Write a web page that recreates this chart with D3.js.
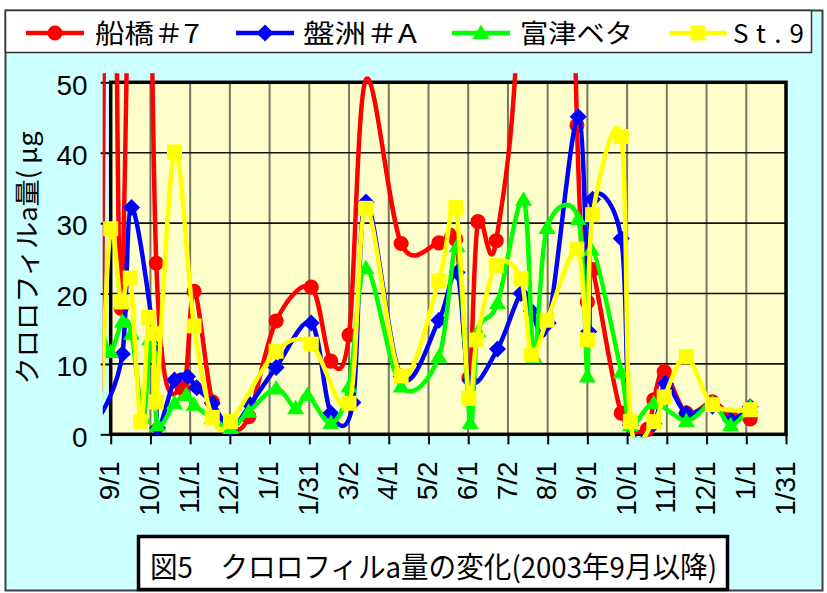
<!DOCTYPE html>
<html>
<head>
<meta charset="utf-8">
<script src="https://cdn.jsdelivr.net/npm/d3@7"></script>
<style>
body { margin: 0; background: #fff; }
</style>
</head>
<body>
<div id="chart"></div>
<script>
"use strict";

// series names (legend order)
var seriesNames = ["船橋＃7", "盤洲＃A", "富津ベタ", "St.9"];
var seriesColors = ["#FF0000", "#0000FF", "#00FF00", "#FFFF00"];
var yTicks = [0, 10, 20, 30, 40, 50];

// 船橋#7
var redDates = ["2003-08-25","2003-09-01","2003-09-09","2003-09-24","2003-10-06","2003-10-26","2003-11-04","2003-11-18","2003-12-02","2003-12-16",
	"2004-01-06","2004-02-02","2004-02-17","2004-03-02","2004-03-15","2004-04-11","2004-05-10","2004-05-23","2004-06-02","2004-06-09",
	"2004-06-23","2004-07-12","2004-07-20","2004-08-02","2004-08-24","2004-09-01","2004-09-05","2004-09-27","2004-10-17","2004-10-22",
	"2004-10-30","2004-11-16","2004-12-06","2004-12-20","2005-01-04"];
var redValues = [6, 150, 17.9, 160, 24.3, 6.5, 20.3, 4.6, 1.0, 2.5,
	16.1, 20.9, 10.4, 14.1, 50.4, 27.1, 27.2, 27.7, 8.0, 30.2,
	27.5, 70, 200, 200, 43.9, 18.8, 23.4, 3.0, 0.7, 4.9,
	8.9, 3.0, 4.6, 2.7, 2.2];

// 盤洲#A
var blueDates = ["2003-08-25","2003-09-10","2003-09-17","2003-10-05","2003-10-07","2003-10-20","2003-10-30","2003-11-06","2003-11-18","2003-12-02",
	"2003-12-17","2004-01-06","2004-02-02","2004-02-17","2004-03-05","2004-03-15","2004-04-11","2004-05-10","2004-05-24","2004-06-03",
	"2004-06-24","2004-07-12","2004-07-20","2004-08-02","2004-08-25","2004-09-02","2004-09-05","2004-09-27","2004-10-04","2004-10-22",
	"2004-10-31","2004-11-16","2004-12-06","2004-12-20","2005-01-04"];
var blueValues = [3, 11.4, 32.2, 12.3, 0.9, 7.7, 8.2, 6.6, 4.4, 0.9,
	4.2, 9.5, 15.8, 3.0, 4.5, 33.0, 8.2, 16.2, 23.0, 7.7,
	12.1, 20.0, 17.5, 15.8, 45.1, 14.6, 33.4, 27.8, 1.3, 1.5,
	7.2, 3.0, 4.0, 2.0, 3.9];

// 富津ベタ
var greenDates = ["2003-08-25","2003-09-01","2003-09-10","2003-09-17","2003-09-26","2003-10-01","2003-10-04","2003-10-07","2003-10-20","2003-10-29",
	"2003-11-04","2003-11-18","2003-12-02","2003-12-16","2004-01-06","2004-01-21","2004-01-30","2004-02-17","2004-03-02","2004-03-15",
	"2004-04-11","2004-05-10","2004-05-24","2004-06-03","2004-06-09","2004-06-24","2004-07-14","2004-07-22","2004-08-01","2004-08-25",
	"2004-09-01","2004-09-04","2004-09-27","2004-10-04","2004-10-22","2004-11-16","2004-12-06","2004-12-20","2005-01-04"];
var greenValues = [15, 11.7, 16.0, 14.3, 2.3, 13.5, 11.3, 1.3, 4.4, 5.6,
	4.2, 2.3, 0.9, 3.2, 6.5, 3.7, 5.6, 1.6, 6.8, 23.6,
	6.8, 11.0, 26.7, 1.6, 14.6, 18.6, 33.3, 11.0, 29.3, 30.6,
	8.2, 26.2, 8.8, 1.3, 4.4, 1.9, 4.4, 1.3, 3.9];

// St.9
var yellowDates = ["2003-08-25","2003-09-01","2003-09-09","2003-09-16","2003-09-24","2003-09-30","2003-10-04","2003-10-06","2003-10-20","2003-11-04",
	"2003-11-18","2003-12-02","2004-01-06","2004-02-02","2004-03-02","2004-03-15","2004-04-11","2004-05-10","2004-05-23","2004-06-02",
	"2004-06-08","2004-06-23","2004-07-12","2004-07-20","2004-08-01","2004-08-24","2004-09-01","2004-09-05","2004-09-27","2004-10-04",
	"2004-10-22","2004-10-30","2004-11-16","2004-12-06","2005-01-04"];
var yellowValues = [5, 29.2, 18.8, 22.2, 1.8, 16.6, 14.3, 4.6, 40.1, 15.4,
	2.4, 1.8, 11.8, 12.8, 4.4, 32.1, 8.3, 21.8, 32.2, 5.1,
	13.4, 24.0, 22.1, 11.3, 16.2, 26.3, 13.4, 31.2, 42.3, 1.8,
	1.8, 5.3, 11.0, 4.2, 3.5];

var width = 827;
var height = 593;
var plot = {left: 110.7, right: 786, top: 82.3, bottom: 434.3};

var parseDate = d3.utcParse("%Y-%m-%d");
var dayMs = 864e5;
var start = parseDate("2003-09-01");
var majorUnit = 30.5; // days between x ticks

var xTicks = d3.range(18).map(function(i) { return new Date(+start + i * majorUnit * dayMs); });
var tickFormat = function(d) { return d3.utcFormat("%-m/%-d")(d3.utcDay.floor(d)); };

var x = d3.scaleUtc()
	.domain([start, xTicks[xTicks.length - 1]])
	.range([plot.left, plot.right]);

var y = d3.scaleLinear()
	.domain([0, 50])
	.range([plot.bottom, plot.top]);

var series = [
	{dates: redDates, values: redValues, shape: "circle"},
	{dates: blueDates, values: blueValues, shape: "diamond"},
	{dates: greenDates, values: greenValues, shape: "triangle"},
	{dates: yellowDates, values: yellowValues, shape: "square"}
].map(function(s, i) {
	s.name = seriesNames[i];
	s.color = seriesColors[i];
	s.points = s.dates.map(function(d, j) { return {date: parseDate(d), value: s.values[j]}; });
	return s;
});

var svg = d3.select("#chart").append("svg")
	.attr("width", width)
	.attr("height", height);

// chart area
svg.append("rect")
	.attr("x", 5.5).attr("y", 10.5)
	.attr("width", 817).attr("height", 580)
	.attr("fill", "#CCFFFF")
	.attr("stroke", "#404040")
	.attr("stroke-width", 2);

// plot area
svg.append("rect")
	.attr("x", plot.left).attr("y", plot.top)
	.attr("width", plot.right - plot.left).attr("height", plot.bottom - plot.top)
	.attr("fill", "#FFFFCC");

// vertical grid
svg.append("g")
	.selectAll("line")
	.data(xTicks.slice(1, -1))
	.enter().append("line")
	.attr("x1", function(d) { return x(d); })
	.attr("x2", function(d) { return x(d); })
	.attr("y1", plot.top).attr("y2", plot.bottom)
	.attr("stroke", "#77775f")
	.attr("stroke-width", 2);

// horizontal grid
svg.append("g")
	.selectAll("line")
	.data(yTicks.slice(1, -1))
	.enter().append("line")
	.attr("x1", plot.left).attr("x2", plot.right)
	.attr("y1", function(d) { return y(d); })
	.attr("y2", function(d) { return y(d); })
	.attr("stroke", "#111")
	.attr("stroke-width", 1.6);

// axes
var yAxis = svg.append("g")
	.attr("transform", "translate(" + plot.left + ",0)")
	.call(d3.axisLeft(y).tickValues(yTicks).tickSize(10).tickPadding(13));

yAxis.selectAll("text")
	.attr("font-family", "Liberation Sans, Arial, sans-serif")
	.attr("font-size", 28)
	.attr("dy", "0.42em")
	.attr("fill", "#000");

var xAxis = svg.append("g")
	.attr("transform", "translate(0," + plot.bottom + ")")
	.call(d3.axisBottom(x).tickValues(xTicks).tickFormat(tickFormat).tickSize(10));

xAxis.selectAll("text")
	.attr("font-family", "Liberation Sans, Arial, sans-serif")
	.attr("font-size", 28)
	.attr("fill", "#000")
	.attr("text-anchor", "end")
	.attr("transform", "rotate(-90)")
	.attr("x", -27)
	.attr("y", -2)
	.attr("dy", "0.36em");

svg.selectAll(".domain").remove();
svg.selectAll(".tick line").attr("stroke", "#000").attr("stroke-width", 2);

// plot border
svg.append("rect")
	.attr("x", plot.left).attr("y", plot.top)
	.attr("width", plot.right - plot.left).attr("height", plot.bottom - plot.top)
	.attr("fill", "none")
	.attr("stroke", "#000")
	.attr("stroke-width", 3.5);

// lines may run a little past the plot edge, as in the original
svg.append("clipPath")
	.attr("id", "clip")
	.append("rect")
	.attr("x", plot.left - 8).attr("y", plot.top - 9)
	.attr("width", plot.right - plot.left + 16).attr("height", plot.bottom - plot.top + 12);

var line = d3.line()
	.x(function(d) { return x(d.date); })
	.y(function(d) { return y(d.value); })
	.curve(d3.curveCatmullRom.alpha(0));

function markerPath(shape) {
	if (shape === "circle") return d3.symbol(d3.symbolCircle, 180)();
	if (shape === "square") return d3.symbol(d3.symbolSquare, 225)();
	if (shape === "triangle") return "M0,-8.5L8.5,6L-8.5,6Z";
	return "M0,-8.5L8.5,0L0,8.5L-8.5,0Z";
}

var inDomain = function(d) {
	return d.value >= 0 && d.value <= 50 && d.date >= x.domain()[0] && d.date <= x.domain()[1];
};

series.forEach(function(s) {
	var g = svg.append("g");
	g.append("path")
		.datum(s.points)
		.attr("clip-path", "url(#clip)")
		.attr("fill", "none")
		.attr("stroke", s.color)
		.attr("stroke-width", 4.5)
		.attr("stroke-linejoin", "round")
		.attr("d", line);
	g.selectAll("path.marker")
		.data(s.points.filter(inDomain))
		.enter().append("path")
		.attr("class", "marker")
		.attr("transform", function(d) { return "translate(" + x(d.date) + "," + y(d.value) + ")"; })
		.attr("d", markerPath(s.shape))
		.attr("fill", s.color);
});

// axis title
svg.append("text")
	.attr("transform", "translate(37,258) rotate(-90)")
	.attr("text-anchor", "middle")
	.attr("font-family", "Noto Sans CJK JP, sans-serif")
	.attr("font-size", 26)
	.attr("textLength", 253)
	.attr("lengthAdjust", "spacingAndGlyphs")
	.text("クロロフィルa量( μg");

// legend
var legend = svg.append("g");
legend.append("rect")
	.attr("x", 5.5).attr("y", 10.5)
	.attr("width", 806).attr("height", 42)
	.attr("fill", "#fff")
	.attr("stroke", "#333")
	.attr("stroke-width", 1.5);

var legendX = [26, 236, 452, 669];
var legendTextX = [95, 303, 520, 733];
var legendTextW = [105, 114, 113, 71];

series.forEach(function(s, i) {
	legend.append("line")
		.attr("x1", legendX[i]).attr("x2", legendX[i] + 58)
		.attr("y1", 33).attr("y2", 33)
		.attr("stroke", s.color)
		.attr("stroke-width", 4.5);
	legend.append("path")
		.attr("transform", "translate(" + (legendX[i] + 29) + ",33)")
		.attr("d", markerPath(s.shape))
		.attr("fill", s.color);
	legend.append("text")
		.attr("x", legendTextX[i]).attr("y", 43)
		.attr("font-family", "Noto Sans CJK JP, sans-serif")
		.attr("font-size", 26)
		.attr("textLength", legendTextW[i])
		.attr("lengthAdjust", i === 3 ? "spacing" : "spacingAndGlyphs")
		.text(s.name);
});

// title box
svg.append("rect")
	.attr("x", 138.5).attr("y", 536.5)
	.attr("width", 589).attr("height", 53)
	.attr("fill", "#fff")
	.attr("stroke", "#000")
	.attr("stroke-width", 3.5);

svg.append("text")
	.attr("x", 150).attr("y", 578)
	.attr("font-family", "Noto Sans CJK JP, sans-serif")
	.attr("font-size", 29)
	.attr("textLength", 567)
	.attr("lengthAdjust", "spacingAndGlyphs")
	.text("図5　クロロフィルa量の変化(2003年9月以降)");
</script>
</body>
</html>
